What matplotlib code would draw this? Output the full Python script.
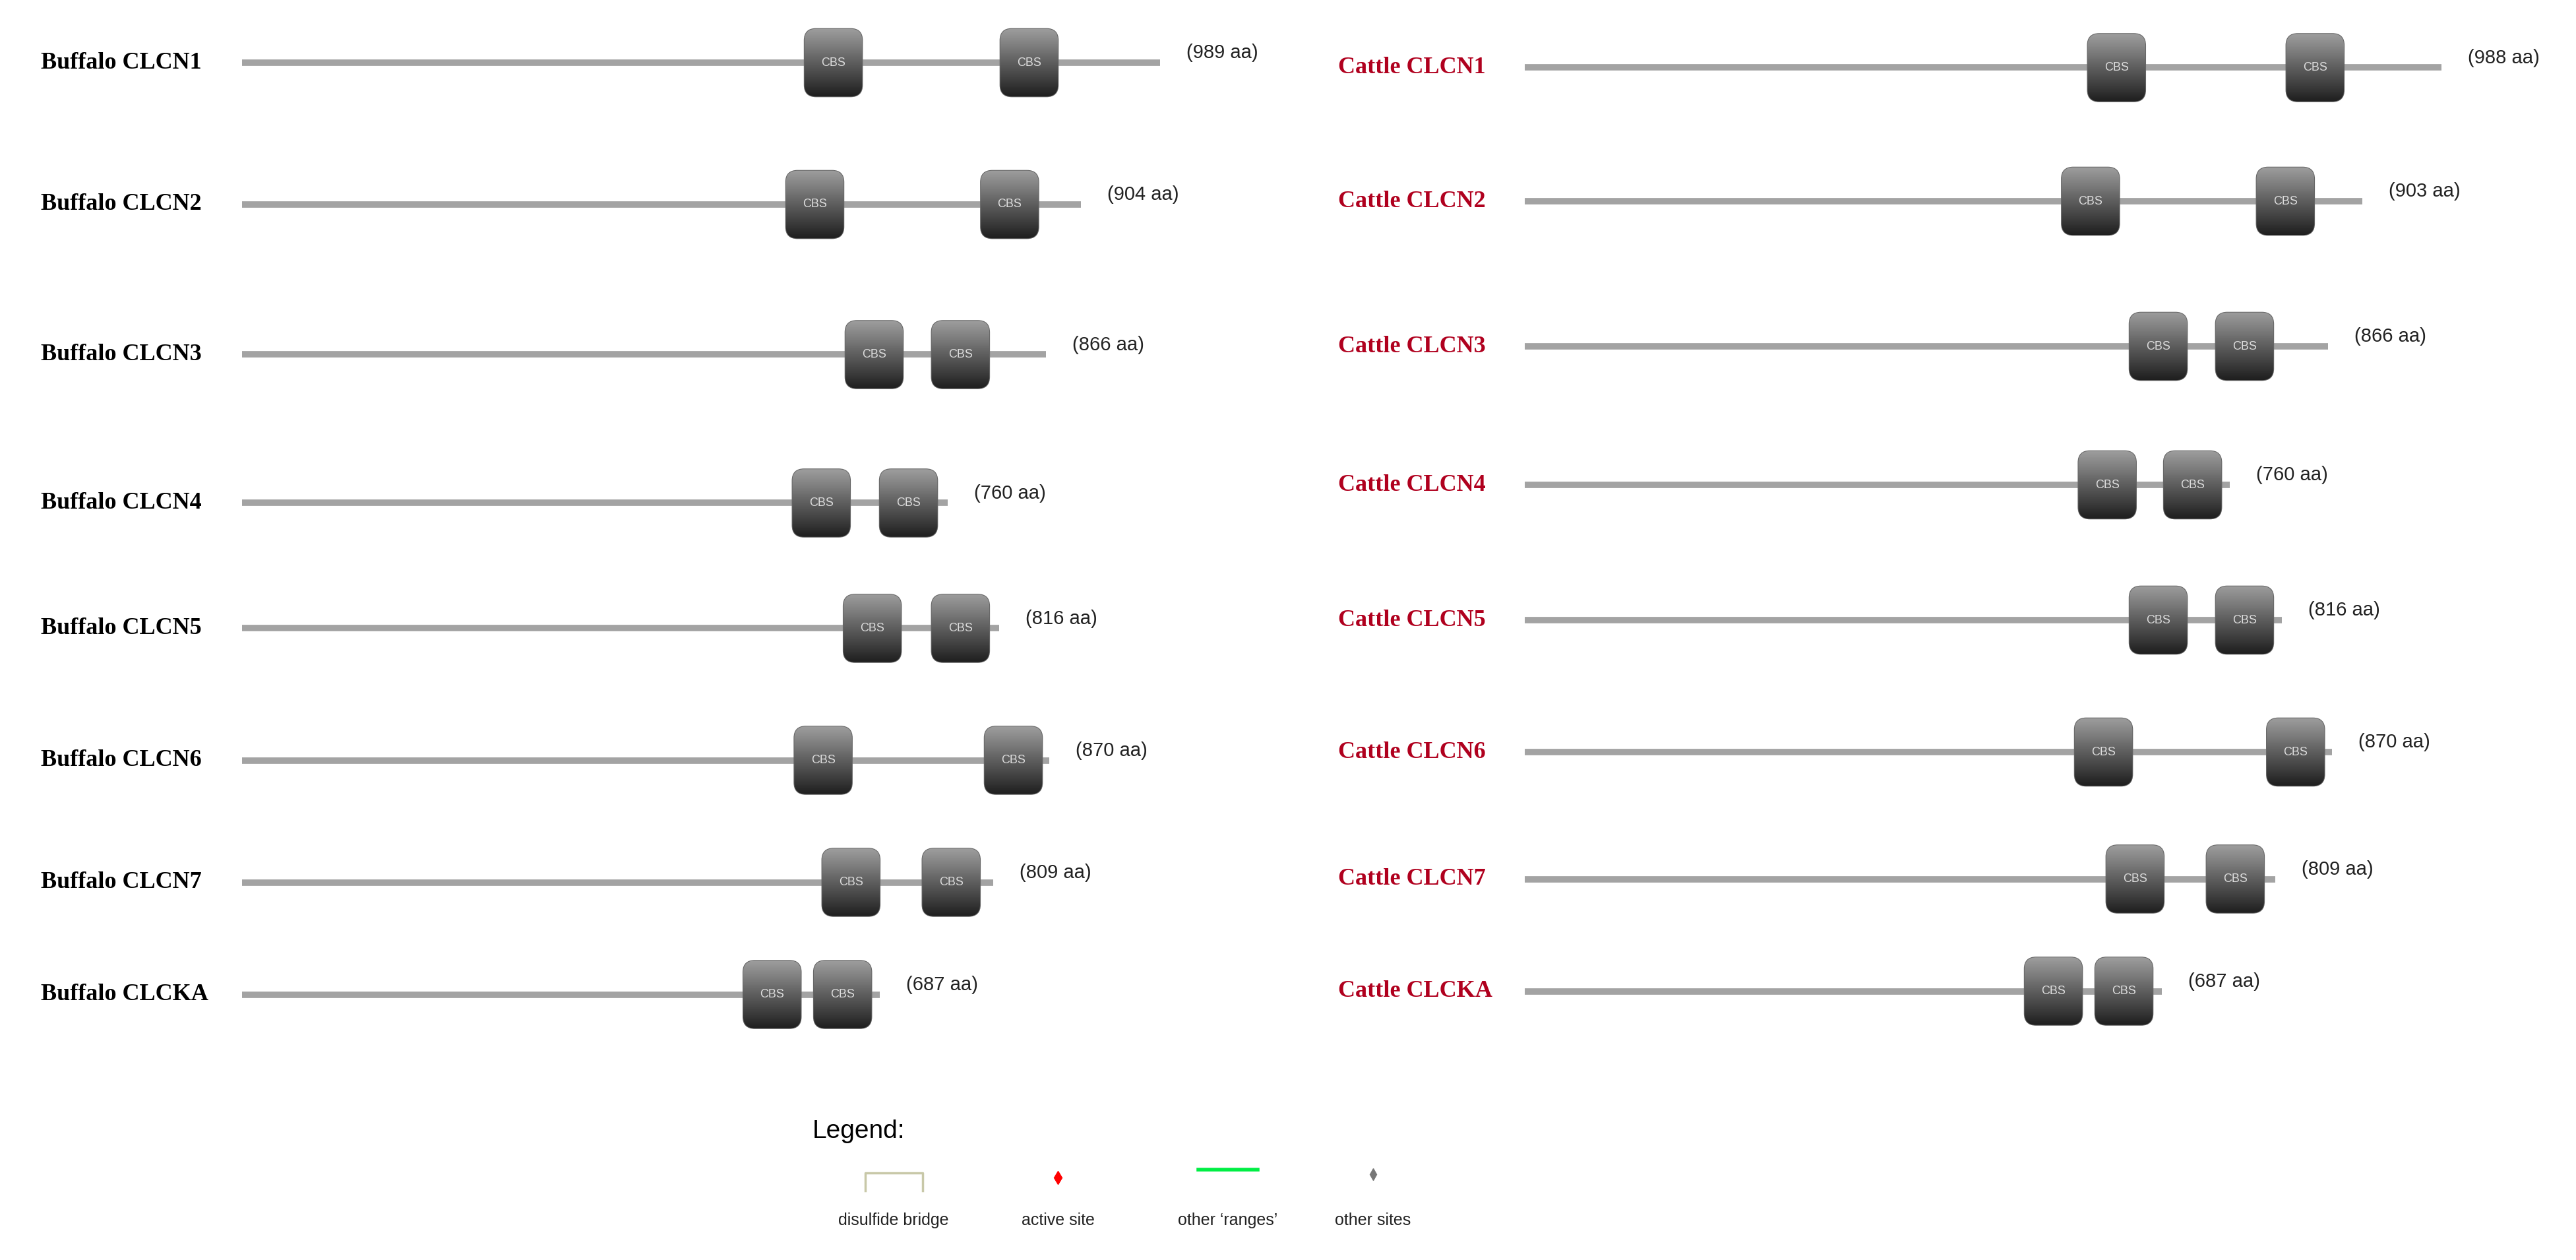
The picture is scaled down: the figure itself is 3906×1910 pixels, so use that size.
import matplotlib
matplotlib.use("Agg")
import matplotlib.pyplot as plt
from matplotlib.patches import FancyBboxPatch
import numpy as np

proteins = ["CLCN1", "CLCN2", "CLCN3", "CLCN4", "CLCN5", "CLCN6", "CLCN7", "CLCKA"]
buffalo_len = [989, 904, 866, 760, 816, 870, 809, 687]
cattle_len = [988, 903, 866, 760, 816, 870, 809, 687]
buffalo_cbs = [[637, 848], [617, 827], [681, 774], [624, 718], [679, 774], [626, 831], [656, 764], [571, 647]]
cattle_cbs = [[638, 852], [610, 820], [683, 776], [628, 720], [683, 776], [624, 831], [658, 766], [570, 646]]
buffalo_rows = [38, 124, 215, 305, 381, 461, 535, 603]
cattle_rows = [41, 122, 210, 294, 376, 456, 533, 601]

W, H = 1563, 764
fig = plt.figure(figsize=(39.06, 19.10), dpi=100)
ax = fig.add_axes([0, 0, 1, 1])
ax.set_xlim(0, W); ax.set_ylim(H, 0); ax.axis("off")
S = 0.563  # px per aa
grad = np.linspace(0.62, 0.12, 64).reshape(-1, 1)

def draw_panel(x0, lens, cbss, rows, species, color, labx):
    for p, L, cb, y in zip(proteins, lens, cbss, rows):
        ax.plot([x0, x0 + L * S], [y, y], color="#a3a3a3", lw=7, solid_capstyle="butt", zorder=1)
        ax.text(labx, y, f"{species} {p}", ha="left", va="center", fontsize=26,
                family="Liberation Serif", weight="bold", color=color)
        ax.text(x0 + L * S + 16, y - 6, f"({L} aa)", ha="left", va="center", fontsize=21,
                family="Liberation Sans", color="#222222")
        for c in cb:
            cx = x0 + c * S
            bw, bh = 30, 36
            patch = FancyBboxPatch((cx - bw / 2, y - bh / 2), bw, bh,
                         boxstyle="round,pad=2.5,rounding_size=7", fc="#2e2e2e", ec="#666666", lw=1.5, zorder=2)
            ax.add_patch(patch)
            im = ax.imshow(grad, cmap="gray", vmin=0, vmax=1, aspect="auto",
                           extent=(cx - bw / 2 - 3, cx + bw / 2 + 3, y + bh / 2 + 3, y - bh / 2 - 3), zorder=3)
            im.set_clip_path(patch)
            ax.text(cx, y, "CBS", ha="center", va="center", fontsize=13, color="#dddddd",
                    family="Liberation Sans", zorder=4)

draw_panel(147, buffalo_len, buffalo_cbs, buffalo_rows, "Buffalo", "black", 25)
draw_panel(925, cattle_len, cattle_cbs, cattle_rows, "Cattle", "#b0001e", 812)
ax.set_xlim(0, W); ax.set_ylim(H, 0)

ax.text(493, 686, "Legend:", fontsize=28, family="Liberation Sans", va="center", ha="left")
ly = 740
ax.plot([525, 525, 560, 560], [722, 711, 711, 722], color="#c8c8a8", lw=2.5)
ax.plot([642], [714], marker="d", color="red", ms=10)
ax.plot([727, 763], [709, 709], color="#00ee44", lw=4)
ax.plot([833], [712], marker="d", color="#777777", ms=9)
for x, t in [(542, "disulfide bridge"), (642, "active site"), (745, "other \u2018ranges\u2019"), (833, "other sites")]:
    ax.text(x, ly, t, ha="center", va="center", fontsize=18, family="Liberation Sans", color="#222222")

fig.savefig("out.png", dpi=100, facecolor="white")
